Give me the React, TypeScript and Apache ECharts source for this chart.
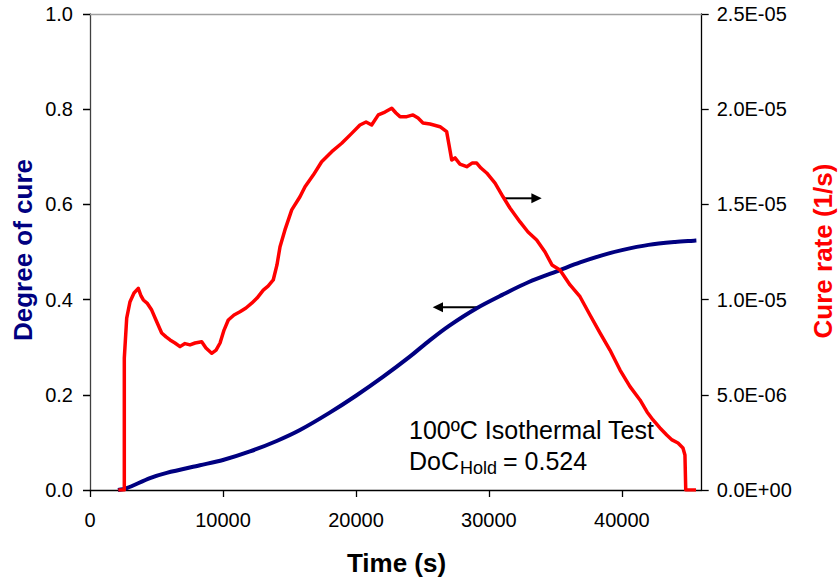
import React, { useEffect, useRef } from "react";
import * as echarts from "echarts";

// Cure rate (1/s) vs time (s) — red curve
const rateTime = [
  2130, 2580, 2580, 2760, 3010, 3310, 3630, 3840, 4010, 4290, 4640, 4960, 5390, 5720, 6020,
  6390, 6770, 7140, 7520, 7900, 8400, 8720, 9150, 9480, 9780, 10080, 10400, 10830, 11280,
  11730, 12160, 12560, 13030, 13390, 13780, 14060, 14290, 14660, 15170, 15790, 16170, 16790,
  17420, 18180, 18930, 19680, 20300, 20760, 21180, 21680, 22180, 22690, 23010, 23310, 23820,
  24290, 24670, 25040, 25570, 26320, 26820, 27000, 27200, 27450, 27820, 28330, 28730, 29080,
  29400, 29830, 30460, 31060, 31580, 32340, 32940, 33590, 34220, 34740, 35340, 36100, 36850,
  37600, 38350, 39100, 39860, 40610, 41360, 41890, 42340, 42860, 43370, 43770, 44220, 44590,
  44740, 44800, 45570,
];
const rateValues = [
  0, 0, 6.93e-6, 9.03e-6, 9.89e-6, 1.035e-5, 1.059e-5, 1.019e-5, 9.98e-6, 9.82e-6, 9.45e-6,
  8.93e-6, 8.25e-6, 8.04e-6, 7.88e-6, 7.72e-6, 7.53e-6, 7.69e-6, 7.62e-6, 7.72e-6, 7.79e-6,
  7.46e-6, 7.18e-6, 7.35e-6, 7.72e-6, 8.4e-6, 8.93e-6, 9.19e-6, 9.36e-6, 9.56e-6, 9.81e-6,
  1.008e-5, 1.05e-5, 1.071e-5, 1.103e-5, 1.182e-5, 1.278e-5, 1.366e-5, 1.471e-5, 1.54e-5,
  1.593e-5, 1.654e-5, 1.724e-5, 1.777e-5, 1.821e-5, 1.873e-5, 1.917e-5, 1.933e-5, 1.917e-5,
  1.97e-5, 1.985e-5, 2.005e-5, 1.98e-5, 1.961e-5, 1.961e-5, 1.97e-5, 1.954e-5, 1.928e-5,
  1.922e-5, 1.908e-5, 1.882e-5, 1.812e-5, 1.733e-5, 1.744e-5, 1.712e-5, 1.698e-5, 1.717e-5,
  1.717e-5, 1.691e-5, 1.665e-5, 1.612e-5, 1.54e-5, 1.481e-5, 1.408e-5, 1.355e-5, 1.313e-5,
  1.25e-5, 1.182e-5, 1.155e-5, 1.077e-5, 1.015e-5, 9.19e-6, 8.25e-6, 7.35e-6, 6.3e-6, 5.43e-6,
  4.73e-6, 4.1e-6, 3.68e-6, 3.26e-6, 2.89e-6, 2.63e-6, 2.47e-6, 2.21e-6, 1.84e-6, 0, 0,
];

// Degree of cure vs time (s) — blue curve
const docTime = [
  2100, 2760, 4510, 5770, 8270, 10000, 12030, 14040, 15790, 18000, 20000, 22000, 24000, 25570,
  27000, 29080, 31000, 33000, 35340, 36850, 38500, 40000, 42000, 44000, 45600,
];
const docValues = [
  0, 0.004, 0.025, 0.036, 0.052, 0.063, 0.081, 0.103, 0.126, 0.162, 0.198, 0.237, 0.279, 0.315,
  0.345, 0.382, 0.41, 0.437, 0.462, 0.478, 0.493, 0.504, 0.515, 0.521, 0.524,
];

const xTicks = [0, 10000, 20000, 30000, 40000];

const FONT = "'Liberation Sans', Arial, sans-serif";

function sci(v: number): string {
  if (Math.abs(v) < 1e-12) return "0.0E+00";
  const [m, e] = v.toExponential(1).split("e");
  const n = parseInt(e, 10);
  return m + "E" + (n < 0 ? "-" : "+") + String(Math.abs(n)).padStart(2, "0");
}

export default function App() {
  const ref = useRef<HTMLDivElement>(null);

  useEffect(() => {
    if (!ref.current) return;
    const chart = echarts.init(ref.current, undefined, { renderer: "svg" });

    const redData = rateTime.map((t, i) => [t, rateValues[i]]);
    const blueData = docTime.map((t, i) => [t, docValues[i]]);

    chart.setOption({
      animation: false,
      backgroundColor: "#ffffff",
      grid: { left: 90, right: 138.3, top: 14, bottom: 92, containLabel: false },
      xAxis: [
        {
          type: "value",
          min: 0,
          max: 46000,
          interval: 10000,
          position: "bottom",
          axisLine: { show: true, onZero: false, lineStyle: { color: "#000000", width: 1.3 } },
          axisTick: { show: true, length: 7, customValues: xTicks, lineStyle: { color: "#000000", width: 1.3 } },
          axisLabel: {
            customValues: xTicks,
            margin: 20,
            fontSize: 20,
            fontFamily: FONT,
            color: "#000000",
            formatter: (v: number) => String(v),
          },
          splitLine: { show: false },
        },
        {
          type: "value",
          min: 0,
          max: 46000,
          position: "top",
          axisLine: { show: true, onZero: false, lineStyle: { color: "#a0a0a0", width: 1.3 } },
          axisTick: { show: false },
          axisLabel: { show: false },
          splitLine: { show: false },
        },
      ],
      yAxis: [
        {
          type: "value",
          min: 0,
          max: 1,
          interval: 0.2,
          position: "left",
          axisLine: { show: true, onZero: false, lineStyle: { color: "#404040", width: 1.3 } },
          axisTick: { show: true, length: 7, lineStyle: { color: "#404040", width: 1.3 } },
          axisLabel: {
            margin: 17,
            fontSize: 20,
            fontFamily: FONT,
            color: "#000000",
            formatter: (v: number) => v.toFixed(1),
          },
          splitLine: { show: false },
        },
        {
          type: "value",
          min: 0,
          max: 2.5e-5,
          interval: 5e-6,
          position: "right",
          axisLine: { show: true, onZero: false, lineStyle: { color: "#000000", width: 1.3 } },
          axisTick: { show: true, length: 7, lineStyle: { color: "#000000", width: 1.3 } },
          axisLabel: {
            margin: 15,
            fontSize: 20,
            fontFamily: FONT,
            color: "#000000",
            formatter: (v: number) => sci(v),
          },
          splitLine: { show: false },
        },
        {
          type: "value",
          min: 0,
          max: 2.5e-5,
          interval: 5e-6,
          position: "right",
          axisLine: { show: false },
          axisTick: { show: true, inside: true, length: 7, lineStyle: { color: "#000000", width: 1.3 } },
          axisLabel: { show: false },
          splitLine: { show: false },
        },
      ],
      series: [
        {
          type: "line",
          name: "Degree of cure",
          xAxisIndex: 0,
          yAxisIndex: 0,
          data: blueData,
          showSymbol: false,
          symbol: "none",
          smooth: 0.3,
          lineStyle: { color: "#000080", width: 4 },
          z: 2,
        },
        {
          type: "line",
          name: "Cure rate",
          xAxisIndex: 0,
          yAxisIndex: 1,
          data: redData,
          showSymbol: false,
          symbol: "none",
          lineStyle: { color: "#ff0000", width: 3.5, join: "round" },
          z: 3,
        },
      ],
      graphic: [
        {
          type: "text",
          x: 22.7,
          y: 250,
          rotation: Math.PI / 2,
          style: {
            text: "Degree of cure",
            font: `bold 26px ${FONT}`,
            fill: "#000080",
            align: "center",
            verticalAlign: "middle",
          },
        },
        {
          type: "text",
          x: 823,
          y: 251,
          rotation: Math.PI / 2,
          style: {
            text: "Cure rate (1/s)",
            font: `bold 26px ${FONT}`,
            fill: "#ff0000",
            align: "center",
            verticalAlign: "middle",
          },
        },
        {
          type: "text",
          x: 396.5,
          y: 563,
          style: {
            text: "Time (s)",
            font: `bold 26px ${FONT}`,
            fill: "#000000",
            align: "center",
            verticalAlign: "middle",
          },
        },
        {
          type: "text",
          x: 409,
          y: 429.5,
          style: {
            text: "100ºC Isothermal Test",
            font: `25px ${FONT}`,
            fill: "#000000",
            align: "left",
            verticalAlign: "middle",
          },
        },
        {
          type: "text",
          x: 409,
          y: 460.5,
          style: {
            text: "DoC",
            font: `25px ${FONT}`,
            fill: "#000000",
            align: "left",
            verticalAlign: "middle",
          },
        },
        {
          type: "text",
          x: 460,
          y: 467.7,
          style: {
            text: "Hold",
            font: `18px ${FONT}`,
            fill: "#000000",
            align: "left",
            verticalAlign: "middle",
          },
        },
        {
          type: "text",
          x: 503,
          y: 460.5,
          style: {
            text: "= 0.524",
            font: `25px ${FONT}`,
            fill: "#000000",
            align: "left",
            verticalAlign: "middle",
          },
        },
        // left-pointing arrow (to degree of cure axis)
        {
          type: "line",
          shape: { x1: 478.3, y1: 307.3, x2: 440, y2: 307.3 },
          style: { stroke: "#000000", lineWidth: 2 },
        },
        {
          type: "polygon",
          shape: { points: [[432.7, 307.3], [443, 302.3], [443, 312.3]] },
          style: { fill: "#000000" },
        },
        // right-pointing arrow (to cure rate axis)
        {
          type: "line",
          shape: { x1: 503.3, y1: 198.3, x2: 534, y2: 198.3 },
          style: { stroke: "#000000", lineWidth: 2 },
        },
        {
          type: "polygon",
          shape: { points: [[541.7, 198.3], [531.4, 193.3], [531.4, 203.3]] },
          style: { fill: "#000000" },
        },
      ],
    });

    return () => chart.dispose();
  }, []);

  return (
    <div
      ref={ref}
      style={{ position: "fixed", left: 0, top: 0, width: 840, height: 582, background: "#fff" }}
    />
  );
}
